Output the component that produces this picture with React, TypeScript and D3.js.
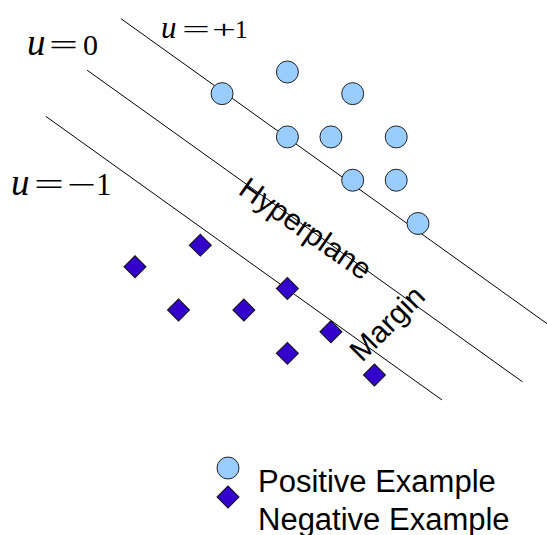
import React from 'react';
import * as d3 from 'd3';

// grid units (one unit ~ 21.7 px)
const posX = [4, 7, 10, 7, 9, 12, 10, 12, 13];
const posY = [1, 0, 1, 3, 3, 3, 5, 5, 7];
const negX = [3, 0, 7, 2, 5, 9, 7, 11];
const negY = [8, 9, 10, 11, 11, 12, 13, 14];

// separating lines y = slope * x + (base - gap * u)
const uLevels = [1, 0, -1];
const lineStart = [-0.65, -2.2, -4.1];
const lineEnd = [18.95, 17.8, 14.1];
const slope = 0.72;
const base = 1.5;
const gap = 3.5;

const legendLabels = ['Positive Example', 'Negative Example'];

const W = 547;
const H = 535;
const POS_FILL = '#99ccff';
const NEG_FILL = '#3300cc';

const x = d3.scaleLinear().domain([0, 13]).range([135, 418]);
const y = d3.scaleLinear().domain([0, 14]).range([72, 375]);

const diamond = d3.symbol().type(d3.symbolSquare).size(242)();

const Glyph = ({ x, w, text, italic, size }: { x: number; w?: number; text: string; italic?: boolean; size?: number }) => (
  <tspan
    x={x}
    fontStyle={italic ? 'italic' : 'normal'}
    fontSize={size}
    textLength={w}
    lengthAdjust={w ? 'spacingAndGlyphs' : undefined}
  >
    {text}
  </tspan>
);

const App = () => {
  const lines = uLevels.map((u, i) => {
    const c = base - gap * u;
    return {
      u,
      x1: x(lineStart[i]),
      y1: y(slope * lineStart[i] + c),
      x2: x(lineEnd[i]),
      y2: y(slope * lineEnd[i] + c),
    };
  });

  const serif = '"Liberation Serif", "Times New Roman", serif';
  const sans = '"Liberation Sans", Arial, sans-serif';

  return (
    <svg width={W} height={H} style={{ position: 'absolute', left: 0, top: 0, background: '#fff' }}>
      {lines.map((l) => (
        <line key={l.u} x1={l.x1} y1={l.y1} x2={l.x2} y2={l.y2} stroke="#000" strokeWidth={1} />
      ))}

      {posX.map((d, i) => (
        <circle key={'p' + i} cx={x(d)} cy={y(posY[i])} r={11} fill={POS_FILL} stroke="#222" strokeWidth={1} />
      ))}
      {negX.map((d, i) => (
        <path
          key={'n' + i}
          d={diamond}
          transform={`translate(${x(d)},${y(negY[i])}) rotate(45)`}
          fill={NEG_FILL}
          stroke="#111"
          strokeWidth={1}
        />
      ))}

      <text fontFamily={serif} fontSize={30} y={55} fill="#000">
        <Glyph x={27} text="u" italic size={37} />
        <Glyph x={49} w={29} text="=" />
        <Glyph x={83} text="0" />
      </text>
      <text fontFamily={serif} fontSize={25} y={38} fill="#000">
        <Glyph x={161} text="u" italic size={31} />
        <Glyph x={182} w={28} text="=" />
        <Glyph x={212} w={24} text="+" />
        <Glyph x={235} text="1" />
      </text>
      <text fontFamily={serif} fontSize={31} y={195} fill="#000">
        <Glyph x={11} text="u" italic size={37} />
        <Glyph x={34} w={30} text="=" />
        <Glyph x={67} w={29} text={'\u2212'} />
        <Glyph x={96} text="1" />
      </text>

      <text fontFamily={sans} fontSize={30} transform="translate(237,193) rotate(35)" fill="#000">
        Hyperplane
      </text>
      <text fontFamily={sans} fontSize={30} transform="translate(362,363) rotate(-45)" fill="#000">
        Margin
      </text>

      <circle cx={228} cy={468} r={11} fill={POS_FILL} stroke="#222" strokeWidth={1} />
      <path d={diamond} transform="translate(228,497) rotate(45)" fill={NEG_FILL} stroke="#111" strokeWidth={1} />
      {legendLabels.map((t, i) => (
        <text key={t} x={258} y={492 + i * 38} fontFamily={sans} fontSize={31} fill="#000">
          {t}
        </text>
      ))}
    </svg>
  );
};

export default App;
